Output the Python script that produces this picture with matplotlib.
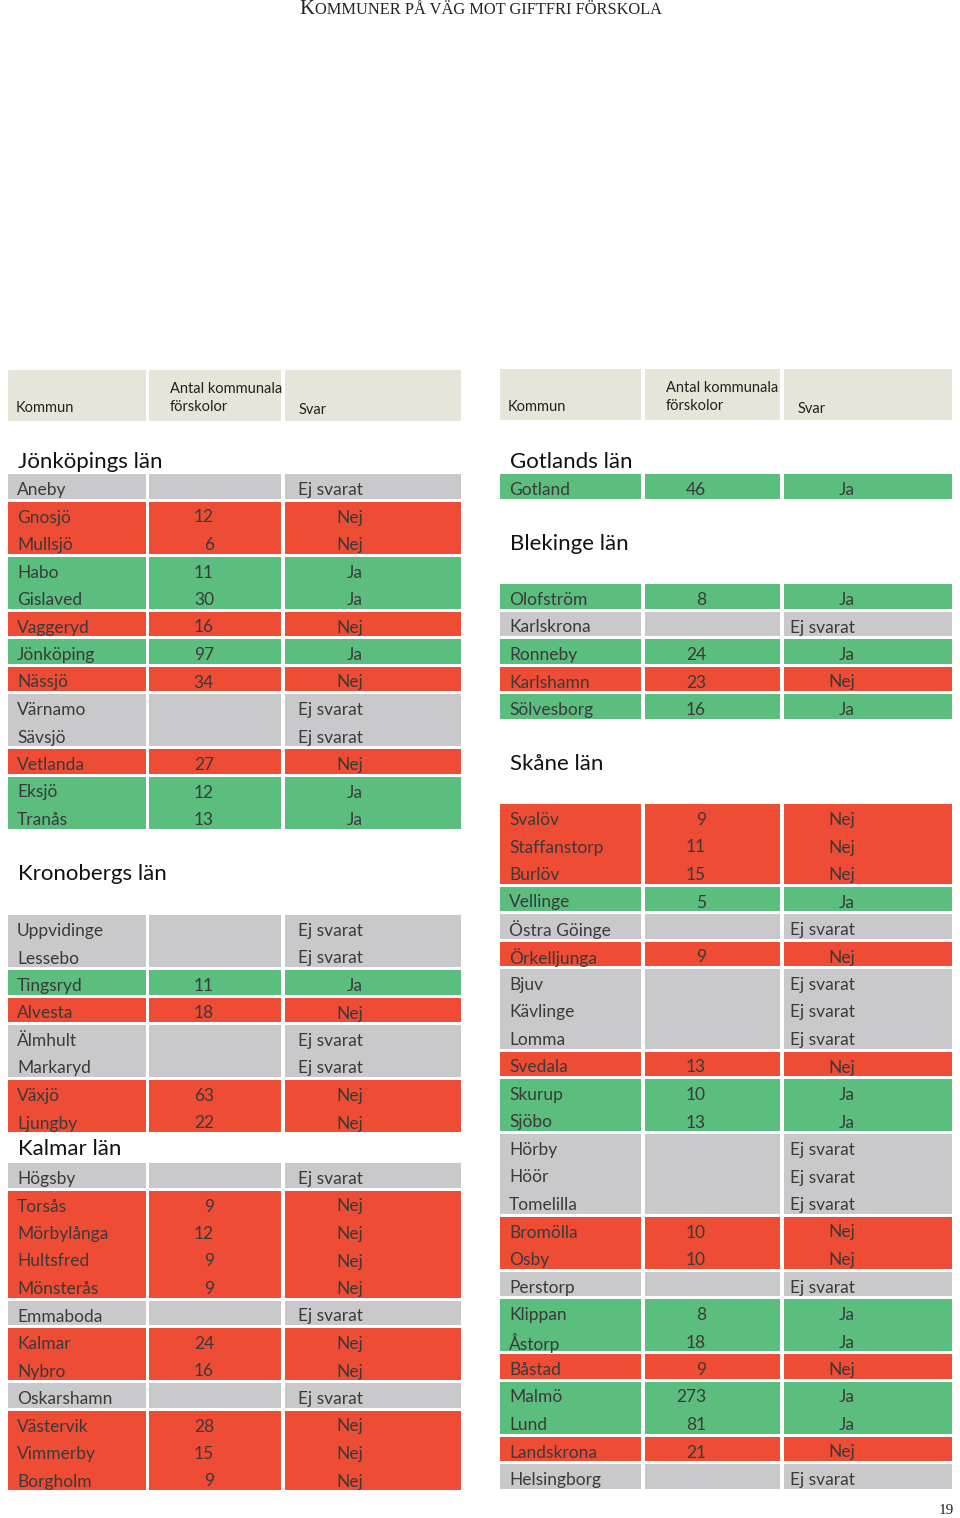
import matplotlib.pyplot as plt
from matplotlib.patches import Rectangle

# ---- data -----------------------------------------------------------------
jonkoping_names = ["Aneby", "Gnosjö", "Mullsjö", "Habo", "Gislaved", "Vaggeryd",
                   "Jönköping", "Nässjö", "Värnamo", "Sävsjö", "Vetlanda", "Eksjö", "Tranås"]
jonkoping_counts = [None, 12, 6, 11, 30, 16, 97, 34, None, None, 27, 12, 13]
jonkoping_svar = ["Ej svarat", "Nej", "Nej", "Ja", "Ja", "Nej", "Ja", "Nej",
                  "Ej svarat", "Ej svarat", "Nej", "Ja", "Ja"]

kronoberg_names = ["Uppvidinge", "Lessebo", "Tingsryd", "Alvesta", "Älmhult",
                   "Markaryd", "Växjö", "Ljungby"]
kronoberg_counts = [None, None, 11, 18, None, None, 63, 22]
kronoberg_svar = ["Ej svarat", "Ej svarat", "Ja", "Nej", "Ej svarat", "Ej svarat",
                  "Nej", "Nej"]

kalmar_names = ["Högsby", "Torsås", "Mörbylånga", "Hultsfred", "Mönsterås", "Emmaboda",
                "Kalmar", "Nybro", "Oskarshamn", "Västervik", "Vimmerby", "Borgholm"]
kalmar_counts = [None, 9, 12, 9, 9, None, 24, 16, None, 28, 15, 9]
kalmar_svar = ["Ej svarat", "Nej", "Nej", "Nej", "Nej", "Ej svarat", "Nej", "Nej",
               "Ej svarat", "Nej", "Nej", "Nej"]

gotland_names = ["Gotland"]
gotland_counts = [46]
gotland_svar = ["Ja"]

blekinge_names = ["Olofström", "Karlskrona", "Ronneby", "Karlshamn", "Sölvesborg"]
blekinge_counts = [8, None, 24, 23, 16]
blekinge_svar = ["Ja", "Ej svarat", "Ja", "Nej", "Ja"]

skane_names = ["Svalöv", "Staffanstorp", "Burlöv", "Vellinge", "Östra Göinge",
               "Örkelljunga", "Bjuv", "Kävlinge", "Lomma", "Svedala", "Skurup", "Sjöbo",
               "Hörby", "Höör", "Tomelilla", "Bromölla", "Osby", "Perstorp", "Klippan",
               "Åstorp", "Båstad", "Malmö", "Lund", "Landskrona", "Helsingborg"]
skane_counts = [9, 11, 15, 5, None, 9, None, None, None, 13, 10, 13, None, None, None,
                10, 10, None, 8, 18, 9, 273, 81, 21, None]
skane_svar = ["Nej", "Nej", "Nej", "Ja", "Ej svarat", "Nej", "Ej svarat", "Ej svarat",
              "Ej svarat", "Nej", "Ja", "Ja", "Ej svarat", "Ej svarat", "Ej svarat",
              "Nej", "Nej", "Ej svarat", "Ja", "Ja", "Nej", "Ja", "Ja", "Nej", "Ej svarat"]

header_labels = ["Kommun", "Antal kommunala\nförskolor", "Svar"]

# ---- style ----------------------------------------------------------------
colors = {"Ja": "#5bbd7e", "Nej": "#ee4c35", "Ej svarat": "#c9c9cb"}
header_color = "#e7e5d9"
text_color = "#3a3a3a"
FONT = "Lato"
PITCH = 27.5

fig = plt.figure(figsize=(9.6, 15.18), dpi=100)
ax = fig.add_axes([0, 0, 1, 1])
ax.set_xlim(0, 960)
ax.set_ylim(1518, 0)
ax.axis("off")

# panel geometry: column edges, number right edge, svar right edge
panels = {
    "left": dict(cols=[(8, 146), (149, 281), (285, 461)], num_x=214, svar_x=363, head_y=370),
    "right": dict(cols=[(500, 641), (645, 780), (784, 952)], num_x=706, svar_x=855, head_y=369),
}


def draw_header(p):
    top = p["head_y"]
    for (x0, x1) in p["cols"]:
        ax.add_patch(Rectangle((x0, top), x1 - x0, 51, color=header_color, lw=0))
    (c1, c2, c3) = p["cols"]
    ax.text(c1[0] + 8, top + 38, header_labels[0], fontsize=10.5, family=FONT,
            color="#222222", va="center")
    ax.text(c2[0] + 21, top + 28, header_labels[1], fontsize=10.5, family=FONT,
            color="#222222", va="center", linespacing=1.45)
    ax.text(c3[0] + 14, top + 40, header_labels[2], fontsize=10.5, family=FONT,
            color="#222222", va="center")


def draw_section(p, title, title_y, first_y, names, counts, svar):
    ax.text(p["cols"][0][0] + 10, title_y + 2, title, fontsize=16, family=FONT,
            color="#111111", va="center")
    n = len(names)
    # merge runs of same answer into one block per column
    i = 0
    while i < n:
        j = i
        while j + 1 < n and svar[j + 1] == svar[i]:
            j += 1
        top = first_y + i * PITCH - 14
        bottom = first_y + j * PITCH + 10.5
        for (x0, x1) in p["cols"]:
            ax.add_patch(Rectangle((x0, top), x1 - x0, bottom - top,
                                   color=colors[svar[i]], lw=0))
        i = j + 1
    for k in range(n):
        y = first_y + k * PITCH + 2
        ax.text(p["cols"][0][0] + 9, y, names[k], fontsize=12.5, family=FONT,
                color=text_color, va="center")
        if counts[k] is not None:
            ax.text(p["num_x"], y, str(counts[k]), fontsize=12.5, family=FONT,
                    color=text_color, va="center", ha="right")
        ax.text(p["svar_x"], y, svar[k], fontsize=12.5, family=FONT,
                color=text_color, va="center", ha="right")


draw_header(panels["left"])
draw_header(panels["right"])

draw_section(panels["left"], "Jönköpings län", 460, 488,
             jonkoping_names, jonkoping_counts, jonkoping_svar)
draw_section(panels["left"], "Kronobergs län", 872, 929,
             kronoberg_names, kronoberg_counts, kronoberg_svar)
draw_section(panels["left"], "Kalmar län", 1147, 1177,
             kalmar_names, kalmar_counts, kalmar_svar)

draw_section(panels["right"], "Gotlands län", 460, 488,
             gotland_names, gotland_counts, gotland_svar)
draw_section(panels["right"], "Blekinge län", 542, 598,
             blekinge_names, blekinge_counts, blekinge_svar)
draw_section(panels["right"], "Skåne län", 762, 818,
             skane_names, skane_counts, skane_svar)

# small-caps page title, scaled to the width it has on the page
fig.canvas.draw()
renderer = fig.canvas.get_renderer()
serif = "Liberation Serif"
title_rest = " ".join("OMMUNER PÅ VÄG MOT GIFTFRI FÖRSKOLA")  # tracked small caps
title_rest = title_rest.replace("   ", "  ")
t1 = ax.text(0, 9, "K", fontsize=12, family=serif, color="#222222", va="center")
t2 = ax.text(0, 9.5, "OMMUNER PÅ VÄG MOT GIFTFRI FÖRSKOLA", fontsize=9.5,
             family=serif, color="#222222", va="center")
w = t1.get_window_extent(renderer).width + t2.get_window_extent(renderer).width
scale = 362 / w
t1.set_fontsize(12 * scale)
t2.set_fontsize(9.5 * scale)
w1 = t1.get_window_extent(renderer).width
w2 = t2.get_window_extent(renderer).width
x_start = 480 - (w1 + w2) / 2
t1.set_x(x_start)
t2.set_x(x_start + w1 + 1)

ax.text(946, 1510, "19", fontsize=11, family=serif, color="#222222",
        ha="center", va="center")

plt.savefig("out.png", dpi=100)
